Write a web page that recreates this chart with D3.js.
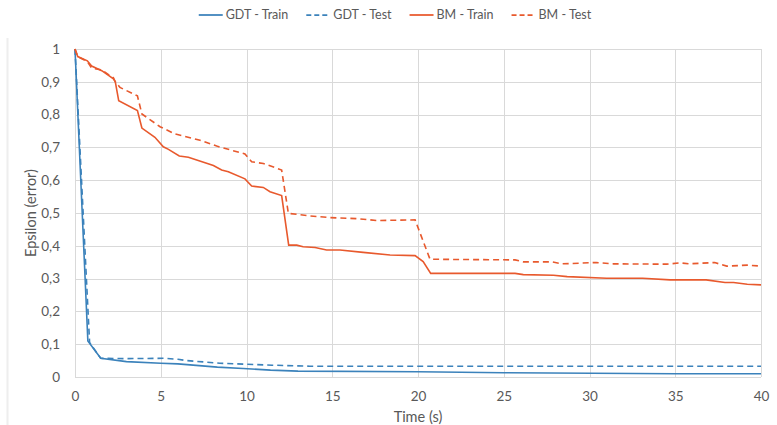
<!DOCTYPE html>
<html>
<head>
<meta charset="utf-8">
<script src="https://cdn.jsdelivr.net/npm/d3@7"></script>
<style>
  body { margin: 0; background: #fff; }
  text { font-family: Lato, "Liberation Sans", sans-serif; fill: #595959; }
</style>
</head>
<body>
<div class="chart"></div>
<script>
// values (time in s, epsilon)
var gdtTrainTime = [0, 0.75, 1.5, 3, 5, 6, 8.3, 9.8, 11.4, 13, 20, 25, 35, 40];
var gdtTrainEps  = [1, 0.110, 0.057, 0.047, 0.042, 0.040, 0.030, 0.026, 0.021, 0.018, 0.016, 0.013, 0.010, 0.010];

var gdtTestTime = [0, 0.85, 1.5, 3, 5.3, 6.0, 6.5, 8.45, 9.9, 11.5, 13.7, 40];
var gdtTestEps  = [1, 0.105, 0.057, 0.056, 0.057, 0.054, 0.050, 0.042, 0.039, 0.036, 0.033, 0.033];

var bmTrainTime = [0, 0.16, 0.72, 0.97, 1.56, 2.24, 2.35, 2.55, 3.64, 3.9, 4.66, 5.15, 5.45, 6.08, 6.61,
  8.07, 8.55, 8.94, 9.91, 10.3, 10.98, 11.37, 12.05, 12.46, 12.93, 13.3, 14.0, 14.67, 15.45, 16.8,
  18.37, 19.83, 20.3, 20.74, 25.66, 26.14, 27.9, 28.7, 31.0, 33.1, 34.7, 36.8, 37.9, 38.4, 39.2, 40];
var bmTrainEps = [1, 0.977, 0.964, 0.948, 0.934, 0.909, 0.900, 0.842, 0.812, 0.759, 0.731, 0.702, 0.694, 0.674, 0.670,
  0.645, 0.631, 0.626, 0.604, 0.582, 0.578, 0.565, 0.553, 0.402, 0.402, 0.397, 0.395, 0.387, 0.387, 0.380,
  0.372, 0.370, 0.352, 0.316, 0.316, 0.312, 0.310, 0.306, 0.301, 0.301, 0.296, 0.296, 0.288, 0.288, 0.283, 0.281];

var bmTestTime = [0, 0.16, 0.72, 0.97, 1.56, 2.24, 2.35, 2.62, 3.64, 3.9, 4.96, 5.83, 7.29, 8.26, 9.91,
  10.3, 10.98, 12.05, 12.44, 13.7, 14.86, 16.4, 17.6, 19.83, 20.2, 20.7, 25.66, 26.14, 27.8, 28.4,
  30.4, 31.4, 34.5, 35.3, 35.8, 37.3, 38.0, 39.2, 40];
var bmTestEps = [1, 0.977, 0.962, 0.942, 0.936, 0.912, 0.900, 0.883, 0.857, 0.802, 0.763, 0.741, 0.722, 0.704, 0.680,
  0.656, 0.651, 0.631, 0.499, 0.491, 0.486, 0.483, 0.477, 0.479, 0.428, 0.359, 0.357, 0.351, 0.351, 0.345,
  0.349, 0.345, 0.344, 0.348, 0.345, 0.349, 0.338, 0.341, 0.338];

var xTicks = [0, 5, 10, 15, 20, 25, 30, 35, 40];
var yTicks = [0, 0.1, 0.2, 0.3, 0.4, 0.5, 0.6, 0.7, 0.8, 0.9, 1];

var seriesNames = ["GDT - Train", "GDT - Test", "BM - Train", "BM - Test"];

var svgWidth = 777;
var svgHeight = 425;
var margin = { top: 49, right: 16, bottom: 48, left: 75 };
var width = svgWidth - margin.left - margin.right;
var height = svgHeight - margin.top - margin.bottom;

var blue = "#3b82bb";
var orange = "#e8592d";

var svg = d3.select(".chart").append("svg")
  .attr("width", svgWidth)
  .attr("height", svgHeight);

// faint chart frame edge on the left
svg.append("line")
  .attr("x1", 7.5).attr("x2", 7.5)
  .attr("y1", 38).attr("y2", svgHeight)
  .attr("stroke", "#eeeeee")
  .attr("stroke-width", 2);

var chartGroup = svg.append("g")
  .attr("transform", `translate(${margin.left}, ${margin.top})`);

var xScale = d3.scaleLinear().domain([0, 40]).range([0, width]);
var yScale = d3.scaleLinear().domain([0, 1]).range([height, 0]);

// grid lines
chartGroup.append("g")
  .selectAll("line")
  .data(yTicks)
  .enter()
  .append("line")
  .attr("x1", 0).attr("x2", width)
  .attr("y1", d => Math.round(yScale(d)) + 0.5)
  .attr("y2", d => Math.round(yScale(d)) + 0.5)
  .attr("stroke", "#d9d9d9");

chartGroup.append("g")
  .selectAll("line")
  .data(xTicks)
  .enter()
  .append("line")
  .attr("y1", 0).attr("y2", height)
  .attr("x1", d => Math.round(xScale(d)) + 0.5)
  .attr("x2", d => Math.round(xScale(d)) + 0.5)
  .attr("stroke", "#d9d9d9");

// axes (labels only)
var bottomAxis = d3.axisBottom(xScale).tickValues(xTicks).tickSize(0).tickPadding(14)
  .tickFormat(d3.format("d"));
var leftAxis = d3.axisLeft(yScale).tickValues(yTicks).tickSize(0).tickPadding(15)
  .tickFormat(d => d === 0 ? "0" : d === 1 ? "1" : d3.format(".1f")(d).replace(".", ","));

var xAxis = chartGroup.append("g")
  .attr("transform", `translate(0, ${height})`)
  .call(bottomAxis);
var yAxis = chartGroup.append("g").call(leftAxis);

[xAxis, yAxis].forEach(function(ax) {
  ax.select(".domain").remove();
  ax.selectAll("text")
    .attr("fill", "#595959")
    .style("font-size", "13.5px")
    .style("font-family", "Lato, sans-serif");
});

// lines
var series = [
  { name: seriesNames[0], t: gdtTrainTime, e: gdtTrainEps, color: blue, dash: null },
  { name: seriesNames[1], t: gdtTestTime, e: gdtTestEps, color: blue, dash: "6,4" },
  { name: seriesNames[2], t: bmTrainTime, e: bmTrainEps, color: orange, dash: null },
  { name: seriesNames[3], t: bmTestTime, e: bmTestEps, color: orange, dash: "6,4" }
];

var line = d3.line()
  .x(d => xScale(d[0]))
  .y(d => yScale(d[1]));

chartGroup.selectAll(".series")
  .data(series)
  .enter()
  .append("path")
  .attr("class", "series")
  .attr("fill", "none")
  .attr("stroke", d => d.color)
  .attr("stroke-width", 1.6)
  .attr("stroke-dasharray", d => d.dash)
  .attr("d", d => line(d.t.map((t, i) => [t, d.e[i]])));

// axis titles
chartGroup.append("text")
  .attr("x", width / 2)
  .attr("y", height + 45)
  .attr("text-anchor", "middle")
  .style("font-size", "14.5px")
  .text("Time (s)");

chartGroup.append("text")
  .attr("transform", "rotate(-90)")
  .attr("x", -height / 2)
  .attr("y", 31 - margin.left)
  .attr("dy", "0.35em")
  .attr("text-anchor", "middle")
  .style("font-size", "14.5px")
  .text("Epsilon (error)");

// legend
var legend = svg.append("g");
var lx = 0;
series.forEach(function(s) {
  var item = legend.append("g").attr("transform", `translate(${lx}, 15)`);
  item.append("line")
    .attr("x1", 0).attr("x2", 24)
    .attr("stroke", s.color)
    .attr("stroke-width", 1.75)
    .attr("stroke-dasharray", s.dash ? "5,3" : null);
  var txt = item.append("text")
    .attr("x", 27)
    .attr("dy", "0.35em")
    .style("font-size", "12.5px")
    .text(s.name);
  lx += 27 + txt.node().getComputedTextLength() + 18;
});
var legendWidth = lx - 18;
legend.attr("transform", `translate(${395 - legendWidth / 2}, 0)`);
</script>
</body>
</html>
